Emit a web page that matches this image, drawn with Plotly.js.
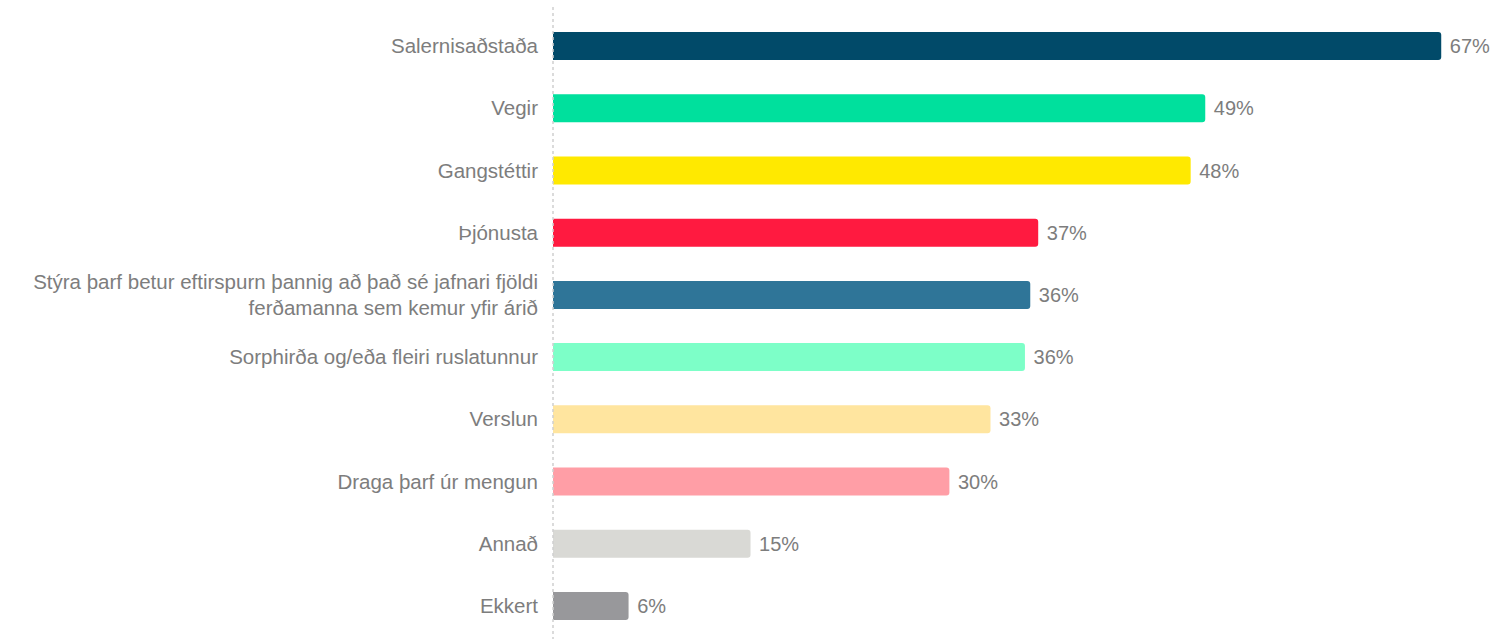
<!DOCTYPE html>
<html>
<head>
<meta charset="utf-8">
<script src="https://cdn.plot.ly/plotly-3.0.1.min.js"></script>
<style>html,body{margin:0;padding:0;background:#fff;}#chart{width:1496px;height:639px;}</style>
</head>
<body>
<div id="chart"></div>
<script>
const categories = [
  "Salernisaðstaða",
  "Vegir",
  "Gangstéttir",
  "Þjónusta",
  "Stýra þarf betur eftirspurn þannig að það sé jafnari fjöldi<br>ferðamanna sem kemur yfir árið",
  "Sorphirða og/eða fleiri ruslatunnur",
  "Verslun",
  "Draga þarf úr mengun",
  "Annað",
  "Ekkert"
];
const values = [67.0, 49.2, 48.1, 36.6, 36.0, 35.6, 33.0, 29.9, 14.9, 5.7];
const colors = ["#014a69", "#00e09d", "#ffe900", "#ff1a40", "#2f7598", "#7dffc8", "#ffe59f", "#ff9ea6", "#d9d9d5", "#98989b"];

const trace = {
  type: "bar",
  orientation: "h",
  y: categories,
  x: values,
  marker: {color: colors, cornerradius: 3},
  texttemplate: "\u00a0%{x:.0f}%",
  textposition: "outside",
  cliponaxis: false,
  textfont: {family: "Liberation Sans, Arial, sans-serif", size: 20, color: "#7d7d7d"},
  hoverinfo: "none"
};

const layout = {
  width: 1496,
  height: 639,
  margin: {l: 553, r: 15, t: 15, b: 2},
  paper_bgcolor: "#ffffff",
  plot_bgcolor: "#ffffff",
  bargap: 0.55,
  showlegend: false,
  font: {family: "Liberation Sans, Arial, sans-serif", size: 20, color: "#7d7d7d"},
  xaxis: {range: [0, 70], visible: false, showgrid: false, zeroline: false},
  yaxis: {
    autorange: "reversed",
    showgrid: false,
    zeroline: false,
    showline: false,
    ticks: "",
    ticklabelstandoff: 14,
    tickfont: {family: "Liberation Sans, Arial, sans-serif", size: 20.5, color: "#7d7d7d"}
  },
  shapes: [{
    type: "line", xref: "paper", yref: "paper",
    x0: 0, x1: 0, y0: -0.005, y1: 1.016,
    line: {color: "#cfcfcf", width: 1.5, dash: "dot"}
  }]
};

Plotly.newPlot("chart", [trace], layout, {displayModeBar: false, staticPlot: true});
</script>
</body>
</html>
